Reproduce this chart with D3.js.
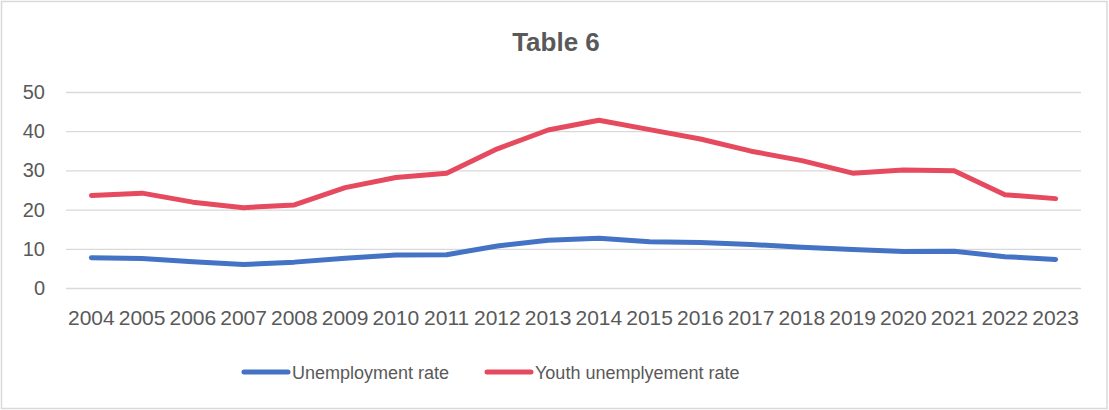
<!DOCTYPE html>
<html>
<head>
<meta charset="utf-8">
<script src="https://cdn.jsdelivr.net/npm/d3@7"></script>
<style>
  body { margin: 0; background: #fff; }
  text { font-family: "Liberation Sans", Arial, sans-serif; fill: #595959; }
</style>
</head>
<body>
<div id="chart"></div>
<script>
var years = ["2004","2005","2006","2007","2008","2009","2010","2011","2012","2013",
             "2014","2015","2016","2017","2018","2019","2020","2021","2022","2023"];
var unemployment = [7.7, 7.5, 6.7, 6.0, 6.6, 7.6, 8.4, 8.5, 10.7, 12.2,
                    12.7, 11.8, 11.6, 11.1, 10.4, 9.8, 9.3, 9.4, 8.0, 7.3];
var youth = [23.6, 24.2, 21.9, 20.5, 21.2, 25.6, 28.2, 29.3, 35.5, 40.3,
             42.8, 40.4, 38.0, 34.9, 32.5, 29.3, 30.1, 29.9, 23.8, 22.8];
var yTicks = [0, 10, 20, 30, 40, 50];
var seriesNames = ["Unemployment rate", "Youth unemplyement rate"];
var colors = ["#4472C4", "#E64A5E"];

var width = 1109, height = 410;
var margin = { top: 92, right: 28, bottom: 122, left: 66 };
var w = width - margin.left - margin.right,
    h = height - margin.top - margin.bottom;

var svg = d3.select("#chart").append("svg")
    .attr("width", width)
    .attr("height", height);

// chart border
svg.append("rect")
    .attr("x", 1.5).attr("y", 1.5)
    .attr("width", width - 3.5).attr("height", height - 3)
    .attr("fill", "#fff")
    .attr("stroke", "#d9d9d9")
    .attr("stroke-width", 1.5);

svg.append("text")
    .attr("x", 556)
    .attr("y", 51)
    .attr("text-anchor", "middle")
    .style("font-size", "26px")
    .style("font-weight", "bold")
    .text("Table 6");

var g = svg.append("g")
    .attr("transform", "translate(" + margin.left + "," + margin.top + ")");

var x = d3.scaleBand()
    .domain(years)
    .range([0, w]);

var y = d3.scaleLinear()
    .domain([0, 50])
    .range([h, 0]);

var yAxis = d3.axisLeft(y)
    .tickValues(yTicks)
    .tickSize(-w)
    .tickPadding(21);

g.append("g")
    .attr("class", "y axis")
    .call(yAxis)
    .call(function(s) {
        s.select(".domain").remove();
        s.selectAll("line").style("stroke", "#d9d9d9").style("stroke-width", 1.3);
        s.selectAll("text").style("font-size", "20px").style("fill", "#595959")
            .attr("font-family", null);
    });

var xAxis = d3.axisBottom(x)
    .tickSize(0)
    .tickPadding(22);

g.append("g")
    .attr("class", "x axis")
    .attr("transform", "translate(0," + h + ")")
    .call(xAxis)
    .call(function(s) {
        s.select(".domain").remove();
        s.selectAll("text").style("font-size", "21px").style("fill", "#595959")
            .attr("font-family", null);
    });

var line = d3.line()
    .x(function(d, i) { return x(years[i]) + x.bandwidth() / 2; })
    .y(function(d) { return y(d); });

[unemployment, youth].forEach(function(data, k) {
    g.append("path")
        .datum(data)
        .attr("d", line)
        .attr("fill", "none")
        .attr("stroke", colors[k])
        .attr("stroke-width", 5)
        .attr("stroke-linejoin", "round")
        .attr("stroke-linecap", "round");
});

// legend
var legendX = [244, 487];
seriesNames.forEach(function(name, k) {
    var lg = svg.append("g").attr("transform", "translate(" + legendX[k] + ",372)");
    lg.append("line")
        .attr("x1", 0).attr("x2", 44)
        .attr("stroke", colors[k])
        .attr("stroke-width", 5)
        .attr("stroke-linecap", "round");
    lg.append("text")
        .attr("x", 48)
        .attr("y", 7)
        .style("font-size", "18px")
        .text(name);
});
</script>
</body>
</html>
